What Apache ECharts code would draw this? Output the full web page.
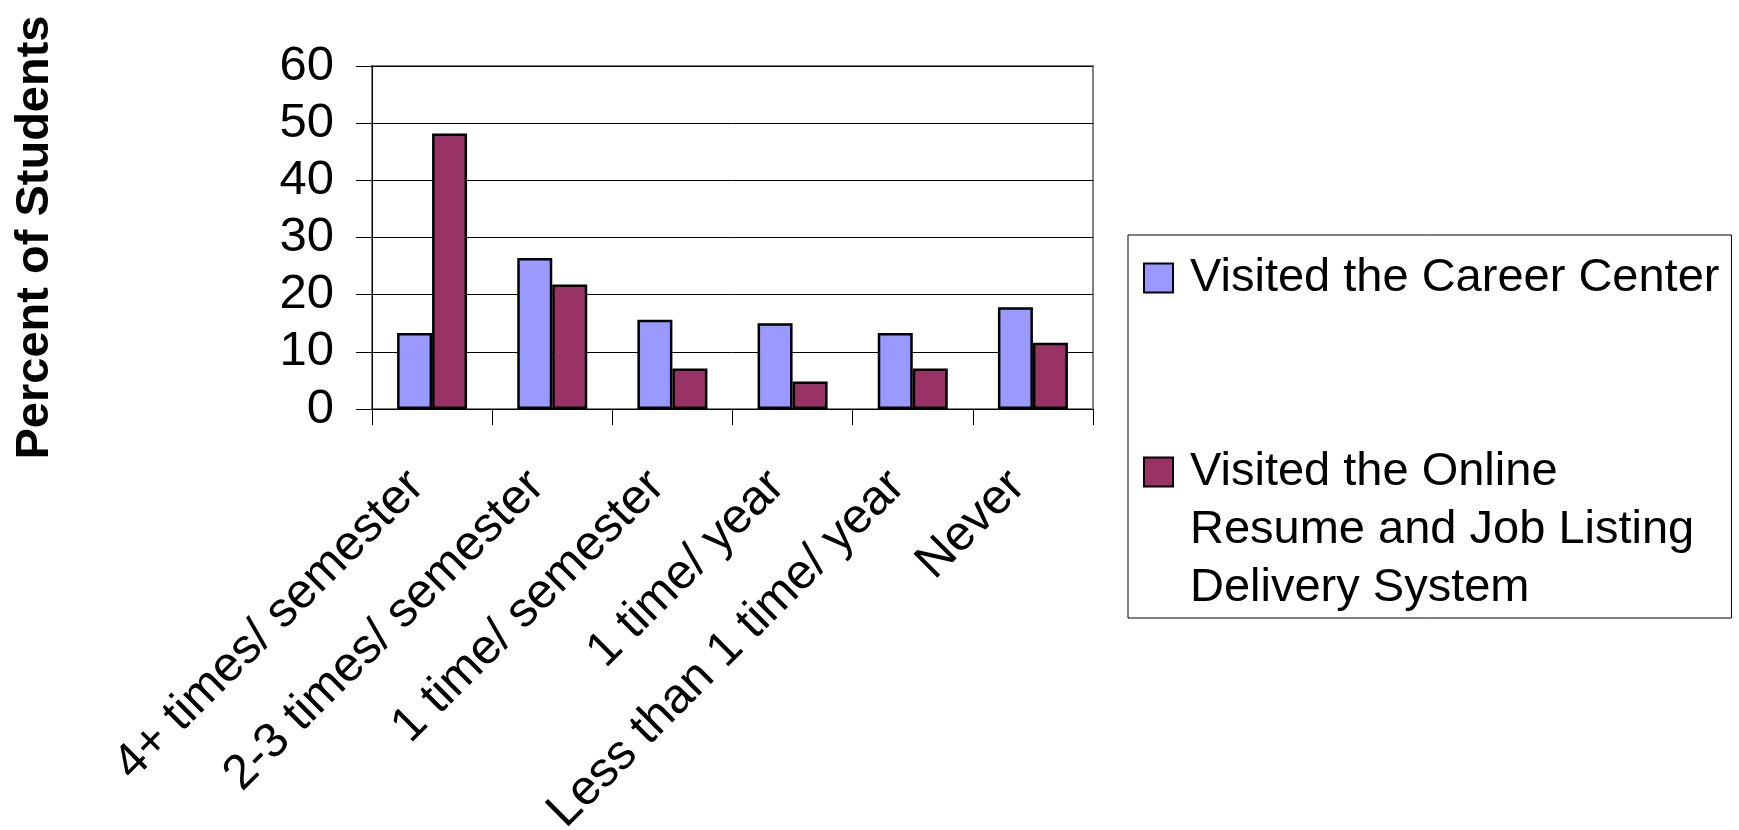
<!DOCTYPE html>
<html>
<head>
<meta charset="utf-8">
<script src="https://cdn.jsdelivr.net/npm/echarts@6/dist/echarts.min.js"></script>
<style>html,body{margin:0;padding:0;background:#fff}#c{width:1739px;height:830px}</style>
</head>
<body>
<div id="c"></div>
<script>
const categories = ['4+ times/ semester', '2-3 times/ semester', '1 time/ semester', '1 time/ year', 'Less than 1 time/ year', 'Never'];
const careerCenter = [13.3, 26.4, 15.6, 15.0, 13.3, 17.8];
const onlineSystem = [48.2, 21.8, 7.1, 4.8, 7.1, 11.6];
const seriesNames = ['Visited the Career Center', 'Visited the Online Resume and Job Listing Delivery System'];
const legendLabels = ['Visited the Career Center', '\n\nVisited the Online\nResume and Job Listing\nDelivery System'];
const yTicks = [0, 10, 20, 30, 40, 50, 60];

const FONT = 'Liberation Sans, Arial, sans-serif';
const chart = echarts.init(document.getElementById('c'), null, {renderer: 'canvas'});
chart.setOption({
  animation: false,
  backgroundColor: '#fff',
  grid: {left: 372, right: 646, top: 66, bottom: 421, outerBoundsMode: 'none', containLabel: false,
    show: true, borderColor: '#808080', borderWidth: 2, backgroundColor: 'transparent'},
  legend: {
    orient: 'vertical',
    left: 1128, top: 235,
    padding: [14, 12, 1, 15],
    borderColor: '#000', borderWidth: 1,
    itemWidth: 29, itemHeight: 29, itemGap: 20,
    icon: 'rect',
    data: seriesNames,
    formatter: function (n) { return legendLabels[seriesNames.indexOf(n)]; },
    textStyle: {fontFamily: FONT, fontSize: 47, color: '#000', lineHeight: 58, padding: [0, 0, 0, 12]}
  },
  xAxis: {
    type: 'category', data: categories,
    axisLine: {show: true, lineStyle: {color: '#000', width: 1}},
    axisTick: {show: true, length: 16, lineStyle: {color: '#000'}},
    axisLabel: {rotate: 45, interval: 0, margin: 54, padding: [0, 22, 0, 0], fontFamily: FONT, fontSize: 49, color: '#000'}
  },
  yAxis: {
    type: 'value', min: 0, max: 60, interval: 10,
    name: 'Percent of Students', nameLocation: 'middle', nameGap: 313,
    nameTextStyle: {fontFamily: FONT, fontSize: 47, fontWeight: 'bold', color: '#000'},
    axisLine: {show: true, lineStyle: {color: '#000', width: 1}},
    axisTick: {show: true, length: 16, lineStyle: {color: '#000'}},
    axisLabel: {margin: 38, fontFamily: FONT, fontSize: 49, color: '#000',
      formatter: function (v) { return yTicks.indexOf(v) >= 0 ? String(v) : ''; }},
    splitLine: {show: true, lineStyle: {color: '#000', width: 1}}
  },
  series: [
    {name: seriesNames[0], type: 'bar', data: careerCenter, barWidth: 35, barGap: '0%',
      itemStyle: {color: '#9999FF', borderColor: '#000', borderWidth: 2.5}},
    {name: seriesNames[1], type: 'bar', data: onlineSystem, barWidth: 35, barGap: '0%',
      itemStyle: {color: '#993366', borderColor: '#000', borderWidth: 2.5}}
  ]
});
</script>
</body>
</html>
